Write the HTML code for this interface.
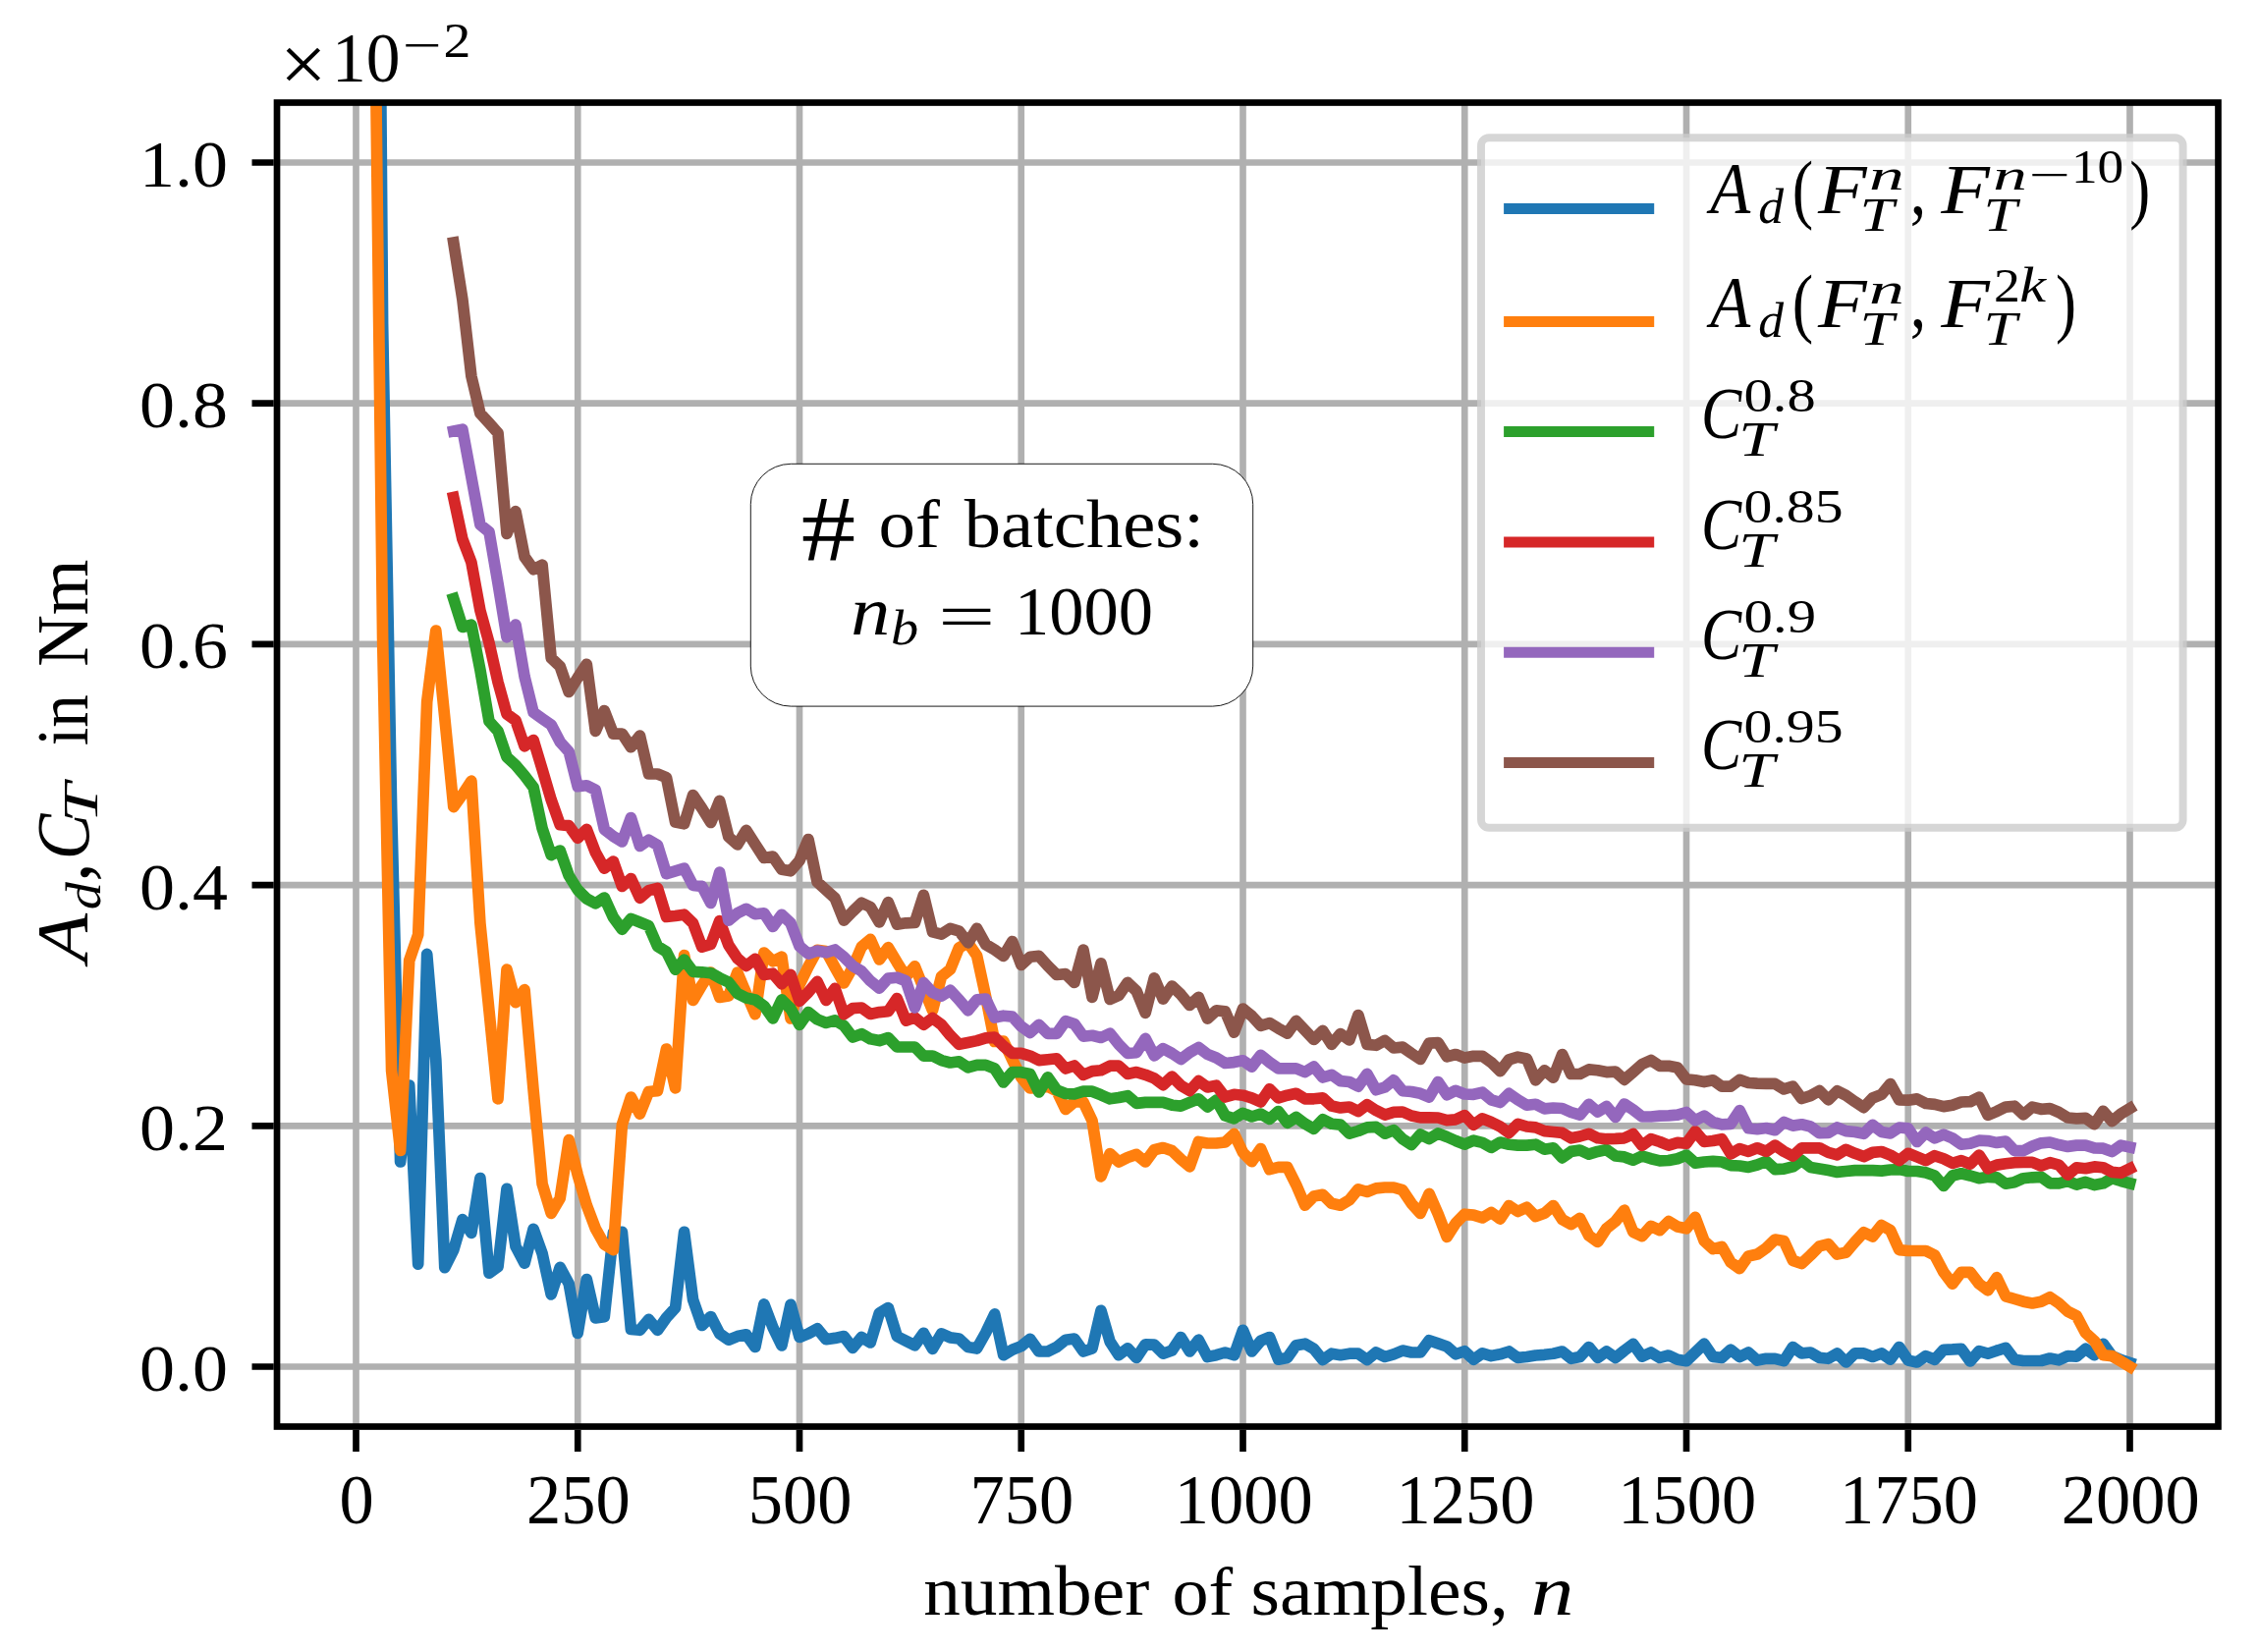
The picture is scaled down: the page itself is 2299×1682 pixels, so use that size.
<!DOCTYPE html><html lang="en"><head><meta charset="utf-8"><title>plot</title><style>html,body{margin:0;padding:0;background:#fff}svg{display:block}</style></head><body><svg width="2299" height="1682" viewBox="0 0 2299 1682" font-family="'Liberation Serif', 'DejaVu Serif', serif" font-size="200px" fill="#000">
<rect width="2299" height="1682" fill="#fff"/>
<defs><clipPath id="ax"><rect x="282.0" y="104.5" width="1976.5" height="1348.0"/></clipPath></defs>
<path d="M362.50 104.5V1452.5M588.25 104.5V1452.5M814.00 104.5V1452.5M1039.75 104.5V1452.5M1265.50 104.5V1452.5M1491.25 104.5V1452.5M1717.00 104.5V1452.5M1942.75 104.5V1452.5M2168.50 104.5V1452.5M282.0 1391.50H2258.5M282.0 1146.30H2258.5M282.0 901.10H2258.5M282.0 655.90H2258.5M282.0 410.70H2258.5M282.0 165.50H2258.5" stroke="#b0b0b0" stroke-width="6.67" fill="none"/>
<g clip-path="url(#ax)" fill="none" stroke-width="11.7" stroke-linejoin="round" stroke-linecap="square">
<polyline points="371.5,-4000.0 380.6,-828.0 389.6,330.0 398.6,822.0 407.6,1183.0 416.7,1105.0 425.7,1287.1 434.7,971.4 443.8,1079.0 452.8,1290.7 461.8,1272.6 470.9,1241.7 479.9,1255.3 488.9,1199.6 498.0,1296.2 507.0,1289.8 516.0,1210.3 525.0,1269.0 534.1,1286.2 543.1,1251.3 552.1,1276.2 561.2,1318.0 570.2,1290.4 579.2,1307.0 588.2,1357.4 597.3,1302.5 606.3,1342.0 615.3,1340.7 624.4,1255.3 633.4,1254.4 642.4,1353.4 651.5,1354.3 660.5,1343.4 669.5,1354.3 678.5,1341.6 687.6,1331.6 696.6,1254.4 705.6,1323.4 714.7,1349.5 723.7,1340.5 732.7,1357.9 741.8,1364.2 750.8,1360.6 759.8,1358.8 768.9,1371.5 777.9,1327.9 786.9,1351.5 795.9,1370.0 805.0,1328.3 814.0,1361.5 823.0,1357.9 832.1,1352.8 841.1,1363.7 850.1,1362.4 859.2,1360.6 868.2,1372.4 877.2,1361.5 886.2,1367.0 895.3,1337.0 904.3,1331.6 913.3,1360.6 922.4,1365.2 931.4,1369.7 940.4,1357.3 949.5,1373.3 958.5,1357.9 967.5,1361.9 976.5,1363.0 985.6,1371.5 994.6,1373.0 1003.6,1357.0 1012.7,1337.9 1021.7,1379.7 1030.7,1374.2 1039.8,1370.6 1048.8,1363.3 1057.8,1376.0 1066.8,1376.0 1075.9,1371.5 1084.9,1364.2 1093.9,1363.0 1103.0,1376.0 1112.0,1373.0 1121.0,1334.3 1130.1,1366.0 1139.1,1379.7 1148.1,1372.8 1157.1,1382.4 1166.2,1368.8 1175.2,1369.2 1184.2,1378.2 1193.3,1375.0 1202.3,1361.5 1211.3,1376.0 1220.3,1364.2 1229.4,1381.5 1238.4,1379.7 1247.4,1377.0 1256.5,1379.7 1265.5,1354.3 1274.5,1376.0 1283.6,1365.2 1292.6,1361.5 1301.6,1384.2 1310.7,1382.4 1319.7,1369.7 1328.7,1368.2 1337.7,1373.3 1346.8,1384.6 1355.8,1378.2 1364.8,1379.7 1373.9,1378.2 1382.9,1378.2 1391.9,1384.6 1401.0,1377.0 1410.0,1381.5 1419.0,1378.8 1428.0,1375.1 1437.1,1377.0 1446.1,1377.0 1455.1,1364.8 1464.2,1367.9 1473.2,1371.0 1482.2,1378.8 1491.2,1375.7 1500.3,1384.2 1509.3,1377.9 1518.3,1380.6 1527.4,1378.8 1536.4,1376.0 1545.4,1382.4 1554.5,1381.5 1563.5,1380.0 1572.5,1379.3 1581.5,1378.2 1590.6,1376.0 1599.6,1383.3 1608.6,1381.5 1617.7,1371.5 1626.7,1382.4 1635.7,1376.0 1644.8,1382.4 1653.8,1375.1 1662.8,1368.4 1671.9,1381.1 1680.9,1377.0 1689.9,1382.4 1698.9,1380.0 1708.0,1384.2 1717.0,1385.7 1726.0,1377.0 1735.1,1368.2 1744.1,1381.5 1753.1,1382.4 1762.2,1374.2 1771.2,1381.5 1780.2,1377.0 1789.2,1385.1 1798.3,1383.3 1807.3,1383.3 1816.3,1385.7 1825.4,1371.5 1834.4,1377.9 1843.4,1377.0 1852.5,1382.4 1861.5,1383.3 1870.5,1377.9 1879.5,1387.0 1888.6,1377.9 1897.6,1377.9 1906.6,1381.5 1915.7,1377.9 1924.7,1384.2 1933.7,1371.5 1942.8,1385.1 1951.8,1387.0 1960.8,1380.6 1969.8,1384.2 1978.9,1374.3 1987.9,1373.9 1996.9,1373.3 2006.0,1386.0 2015.0,1375.7 2024.0,1378.2 2033.0,1375.2 2042.1,1372.4 2051.1,1384.2 2060.1,1385.5 2069.2,1385.5 2078.2,1385.5 2087.2,1383.0 2096.3,1384.8 2105.3,1380.6 2114.3,1381.2 2123.4,1373.3 2132.4,1379.7 2141.4,1368.3 2150.4,1380.6 2159.5,1384.6 2168.5,1387.5" stroke="#1f77b4"/>
<polyline points="371.5,-3000.0 380.6,-90.0 389.6,650.0 398.6,1090.0 407.6,1171.4 416.7,978.0 425.7,951.7 434.7,714.4 443.8,642.0 452.8,730.8 461.8,821.6 470.9,808.9 479.9,795.2 488.9,940.0 498.0,1029.3 507.0,1118.8 516.0,987.2 525.0,1020.7 534.1,1007.7 543.1,1110.0 552.1,1205.4 561.2,1235.4 570.2,1220.0 579.2,1160.6 588.2,1196.3 597.3,1227.2 606.3,1250.8 615.3,1267.0 624.4,1272.6 633.4,1145.0 642.4,1117.0 651.5,1134.2 660.5,1111.5 669.5,1110.6 678.5,1068.0 687.6,1107.9 696.6,972.6 705.6,1018.5 714.7,1003.0 723.7,990.0 732.7,1015.4 741.8,1014.0 750.8,990.0 759.8,1011.5 768.9,1032.7 777.9,970.0 786.9,978.7 795.9,974.2 805.0,1037.0 814.0,1002.6 823.0,984.2 832.1,967.4 841.1,968.5 850.1,984.9 859.2,1001.0 868.2,985.0 877.2,964.0 886.2,956.4 895.3,977.0 904.3,964.7 913.3,979.8 922.4,994.3 931.4,983.9 940.4,1006.4 949.5,1028.8 958.5,994.3 967.5,987.0 976.5,964.8 985.6,960.0 994.6,973.0 1003.6,1014.5 1012.7,1060.5 1021.7,1060.0 1030.7,1079.0 1039.8,1097.0 1048.8,1108.0 1057.8,1107.6 1066.8,1106.2 1075.9,1110.8 1084.9,1129.4 1093.9,1122.0 1103.0,1122.0 1112.0,1141.0 1121.0,1198.0 1130.1,1174.6 1139.1,1183.0 1148.1,1178.5 1157.1,1175.4 1166.2,1183.0 1175.2,1170.7 1184.2,1168.5 1193.3,1171.6 1202.3,1180.3 1211.3,1187.8 1220.3,1162.5 1229.4,1164.0 1238.4,1164.0 1247.4,1163.0 1256.5,1154.4 1265.5,1173.5 1274.5,1182.7 1283.6,1169.6 1292.6,1190.6 1301.6,1188.4 1310.7,1188.4 1319.7,1206.3 1328.7,1227.2 1337.7,1218.1 1346.8,1216.3 1355.8,1225.3 1364.8,1227.2 1373.9,1221.7 1382.9,1210.8 1391.9,1213.5 1401.0,1209.9 1410.0,1209.0 1419.0,1209.0 1428.0,1211.7 1437.1,1225.3 1446.1,1235.3 1455.1,1215.4 1464.2,1236.0 1473.2,1259.3 1482.2,1245.3 1491.2,1236.2 1500.3,1237.1 1509.3,1239.9 1518.3,1234.4 1527.4,1241.1 1536.4,1227.5 1545.4,1233.5 1554.5,1229.3 1563.5,1238.6 1572.5,1235.3 1581.5,1227.5 1590.6,1241.7 1599.6,1246.6 1608.6,1240.4 1617.7,1258.0 1626.7,1264.4 1635.7,1250.8 1644.8,1243.5 1653.8,1232.2 1662.8,1254.4 1671.9,1258.6 1680.9,1248.4 1689.9,1252.6 1698.9,1243.5 1708.0,1249.0 1717.0,1250.8 1726.0,1239.3 1735.1,1263.5 1744.1,1271.6 1753.1,1269.3 1762.2,1285.3 1771.2,1291.6 1780.2,1278.9 1789.2,1277.1 1798.3,1270.7 1807.3,1262.0 1816.3,1263.5 1825.4,1283.4 1834.4,1286.5 1843.4,1278.0 1852.5,1268.9 1861.5,1266.6 1870.5,1277.1 1879.5,1275.3 1888.6,1264.4 1897.6,1254.8 1906.6,1259.0 1915.7,1247.5 1924.7,1252.6 1933.7,1272.6 1942.8,1273.5 1951.8,1273.5 1960.8,1273.5 1969.8,1278.0 1978.9,1295.3 1987.9,1307.1 1996.9,1295.3 2006.0,1295.3 2015.0,1307.1 2024.0,1313.8 2033.0,1300.7 2042.1,1319.8 2051.1,1322.5 2060.1,1325.2 2069.2,1327.0 2078.2,1325.2 2087.2,1320.7 2096.3,1327.0 2105.3,1335.2 2114.3,1339.8 2123.4,1357.0 2132.4,1365.2 2141.4,1379.7 2150.4,1380.6 2159.5,1386.0 2168.5,1391.5" stroke="#ff7f0e"/>
<polyline points="461.8,609.5 470.9,638.5 479.9,636.2 488.9,682.0 498.0,734.4 507.0,744.4 516.0,770.7 525.0,779.0 534.1,789.8 543.1,801.6 552.1,843.4 561.2,870.6 570.2,866.0 579.2,891.5 588.2,906.0 597.3,915.0 606.3,919.8 615.3,914.0 624.4,934.0 633.4,946.3 642.4,935.4 651.5,939.0 660.5,942.7 669.5,963.5 678.5,969.0 687.6,987.2 696.6,977.2 705.6,989.3 714.7,989.8 723.7,990.7 732.7,995.7 741.8,1000.0 750.8,1011.5 759.8,1016.0 768.9,1017.9 777.9,1024.2 786.9,1037.0 795.9,1017.9 805.0,1027.0 814.0,1043.3 823.0,1030.6 832.1,1037.9 841.1,1041.5 850.1,1038.8 859.2,1044.2 868.2,1056.0 877.2,1052.7 886.2,1057.8 895.3,1059.6 904.3,1056.6 913.3,1066.0 922.4,1066.0 931.4,1066.0 940.4,1075.1 949.5,1075.1 958.5,1079.6 967.5,1082.0 976.5,1080.8 985.6,1086.8 994.6,1084.3 1003.6,1084.3 1012.7,1088.0 1021.7,1102.0 1030.7,1091.7 1039.8,1091.7 1048.8,1093.5 1057.8,1112.0 1066.8,1096.8 1075.9,1109.8 1084.9,1113.5 1093.9,1113.9 1103.0,1111.2 1112.0,1111.2 1121.0,1114.8 1130.1,1118.8 1139.1,1117.5 1148.1,1115.7 1157.1,1123.4 1166.2,1122.4 1175.2,1122.4 1184.2,1122.4 1193.3,1125.2 1202.3,1126.1 1211.3,1122.4 1220.3,1118.8 1229.4,1127.0 1238.4,1120.2 1247.4,1136.0 1256.5,1138.8 1265.5,1133.3 1274.5,1137.0 1283.6,1134.2 1292.6,1139.3 1301.6,1131.5 1310.7,1143.3 1319.7,1137.5 1328.7,1144.2 1337.7,1149.3 1346.8,1139.7 1355.8,1144.2 1364.8,1145.1 1373.9,1154.2 1382.9,1151.5 1391.9,1147.8 1401.0,1147.3 1410.0,1154.2 1419.0,1150.6 1428.0,1159.6 1437.1,1165.5 1446.1,1155.1 1455.1,1159.6 1464.2,1154.0 1473.2,1157.5 1482.2,1161.5 1491.2,1165.2 1500.3,1161.2 1509.3,1163.4 1518.3,1168.4 1527.4,1163.0 1536.4,1165.2 1545.4,1166.1 1554.5,1166.1 1563.5,1165.2 1572.5,1170.2 1581.5,1168.8 1590.6,1178.8 1599.6,1172.4 1608.6,1171.0 1617.7,1175.2 1626.7,1172.4 1635.7,1170.6 1644.8,1177.0 1653.8,1177.9 1662.8,1181.2 1671.9,1177.0 1680.9,1179.7 1689.9,1181.9 1698.9,1181.5 1708.0,1179.7 1717.0,1176.1 1726.0,1184.2 1735.1,1183.0 1744.1,1182.4 1753.1,1183.0 1762.2,1186.6 1771.2,1187.0 1780.2,1188.4 1789.2,1186.0 1798.3,1182.4 1807.3,1190.6 1816.3,1190.2 1825.4,1187.9 1834.4,1181.5 1843.4,1188.5 1852.5,1190.0 1861.5,1191.6 1870.5,1193.4 1879.5,1192.5 1888.6,1191.6 1897.6,1191.6 1906.6,1191.6 1915.7,1192.1 1924.7,1191.0 1933.7,1190.6 1942.8,1192.5 1951.8,1192.5 1960.8,1193.9 1969.8,1197.0 1978.9,1207.5 1987.9,1197.0 1996.9,1194.8 2006.0,1197.0 2015.0,1199.7 2024.0,1198.3 2033.0,1198.8 2042.1,1205.2 2051.1,1203.7 2060.1,1199.7 2069.2,1198.8 2078.2,1198.3 2087.2,1204.8 2096.3,1204.8 2105.3,1202.5 2114.3,1206.1 2123.4,1203.4 2132.4,1206.6 2141.4,1204.8 2150.4,1199.7 2159.5,1202.5 2168.5,1204.8" stroke="#2ca02c"/>
<polyline points="461.8,506.5 470.9,548.9 479.9,572.5 488.9,621.5 498.0,654.5 507.0,694.5 516.0,727.0 525.0,733.5 534.1,759.8 543.1,753.5 552.1,783.4 561.2,814.3 570.2,839.7 579.2,840.6 588.2,853.3 597.3,844.3 606.3,867.9 615.3,884.2 624.4,877.0 633.4,902.5 642.4,894.5 651.5,914.3 660.5,906.6 669.5,904.3 678.5,933.4 687.6,932.5 696.6,931.2 705.6,940.0 714.7,964.2 723.7,961.5 732.7,937.6 741.8,962.2 750.8,975.8 759.8,983.4 768.9,976.3 777.9,992.4 786.9,991.2 795.9,1001.8 805.0,992.4 814.0,1019.3 823.0,1010.3 832.1,999.4 841.1,1018.4 850.1,1006.4 859.2,1032.7 868.2,1026.6 877.2,1026.0 886.2,1032.4 895.3,1030.6 904.3,1029.7 913.3,1016.6 922.4,1039.1 931.4,1036.0 940.4,1043.3 949.5,1036.6 958.5,1043.3 967.5,1054.2 976.5,1063.3 985.6,1061.5 994.6,1059.6 1003.6,1056.9 1012.7,1056.0 1021.7,1065.1 1030.7,1072.4 1039.8,1072.4 1048.8,1075.1 1057.8,1079.6 1066.8,1078.7 1075.9,1077.8 1084.9,1088.0 1093.9,1085.0 1103.0,1094.3 1112.0,1090.6 1121.0,1089.7 1130.1,1085.2 1139.1,1085.2 1148.1,1093.4 1157.1,1091.6 1166.2,1094.3 1175.2,1097.9 1184.2,1104.6 1193.3,1096.1 1202.3,1105.2 1211.3,1110.6 1220.3,1100.6 1229.4,1107.0 1238.4,1105.2 1247.4,1117.0 1256.5,1114.3 1265.5,1115.2 1274.5,1117.9 1283.6,1122.0 1292.6,1108.8 1301.6,1117.9 1310.7,1115.2 1319.7,1113.3 1328.7,1118.8 1337.7,1118.8 1346.8,1117.9 1355.8,1126.1 1364.8,1127.9 1373.9,1127.0 1382.9,1131.5 1391.9,1124.8 1401.0,1130.6 1410.0,1135.1 1419.0,1132.4 1428.0,1132.0 1437.1,1136.0 1446.1,1137.9 1455.1,1137.9 1464.2,1138.0 1473.2,1140.6 1482.2,1139.8 1491.2,1135.6 1500.3,1145.2 1509.3,1138.8 1518.3,1142.5 1527.4,1147.0 1536.4,1153.4 1545.4,1144.3 1554.5,1147.0 1563.5,1147.9 1572.5,1151.6 1581.5,1152.5 1590.6,1153.4 1599.6,1158.8 1608.6,1157.0 1617.7,1154.3 1626.7,1158.8 1635.7,1159.7 1644.8,1159.4 1653.8,1158.8 1662.8,1154.6 1671.9,1166.4 1680.9,1159.7 1689.9,1162.5 1698.9,1166.1 1708.0,1163.4 1717.0,1164.3 1726.0,1151.9 1735.1,1162.5 1744.1,1161.5 1753.1,1159.7 1762.2,1174.8 1771.2,1169.7 1780.2,1172.4 1789.2,1168.8 1798.3,1172.4 1807.3,1166.1 1816.3,1172.4 1825.4,1177.0 1834.4,1168.8 1843.4,1168.8 1852.5,1168.8 1861.5,1173.4 1870.5,1175.8 1879.5,1170.3 1888.6,1174.3 1897.6,1177.6 1906.6,1173.4 1915.7,1172.5 1924.7,1176.1 1933.7,1181.6 1942.8,1174.3 1951.8,1177.9 1960.8,1181.6 1969.8,1176.7 1978.9,1179.8 1987.9,1184.3 1996.9,1181.6 2006.0,1185.2 2015.0,1176.1 2024.0,1189.7 2033.0,1186.1 2042.1,1184.8 2051.1,1183.7 2060.1,1183.4 2069.2,1183.4 2078.2,1187.0 2087.2,1183.7 2096.3,1186.1 2105.3,1196.1 2114.3,1188.8 2123.4,1189.7 2132.4,1187.9 2141.4,1188.8 2150.4,1193.4 2159.5,1194.3 2168.5,1189.9" stroke="#d62728"/>
<polyline points="461.8,439.0 470.9,437.2 479.9,485.7 488.9,534.3 498.0,541.6 507.0,594.0 516.0,648.8 525.0,636.0 534.1,689.0 543.1,725.3 552.1,731.7 561.2,738.0 570.2,755.3 579.2,765.3 588.2,800.7 597.3,799.8 606.3,804.3 615.3,844.3 624.4,851.5 633.4,857.0 642.4,832.5 651.5,861.5 660.5,855.2 669.5,860.6 678.5,889.7 687.6,886.9 696.6,884.2 705.6,901.5 714.7,902.4 723.7,919.5 732.7,888.2 741.8,937.1 750.8,929.8 759.8,925.3 768.9,930.7 777.9,929.8 786.9,943.4 795.9,931.3 805.0,939.8 814.0,963.4 823.0,971.2 832.1,968.0 841.1,969.8 850.1,967.0 859.2,974.3 868.2,983.4 877.2,988.8 886.2,998.8 895.3,1006.1 904.3,996.1 913.3,995.2 922.4,998.8 931.4,1026.0 940.4,1000.6 949.5,1010.6 958.5,1014.2 967.5,1008.3 976.5,1017.9 985.6,1028.8 994.6,1017.9 1003.6,1017.0 1012.7,1036.0 1021.7,1034.2 1030.7,1035.1 1039.8,1045.1 1048.8,1051.5 1057.8,1043.3 1066.8,1052.4 1075.9,1052.4 1084.9,1039.7 1093.9,1042.5 1103.0,1055.2 1112.0,1054.3 1121.0,1056.5 1130.1,1052.2 1139.1,1063.4 1148.1,1072.5 1157.1,1071.6 1166.2,1057.4 1175.2,1074.9 1184.2,1067.6 1193.3,1072.5 1202.3,1078.5 1211.3,1071.6 1220.3,1066.5 1229.4,1073.4 1238.4,1077.0 1247.4,1082.5 1256.5,1081.6 1265.5,1079.8 1274.5,1086.1 1283.6,1074.3 1292.6,1081.6 1301.6,1087.9 1310.7,1087.9 1319.7,1087.9 1328.7,1091.6 1337.7,1086.1 1346.8,1097.0 1355.8,1094.3 1364.8,1100.6 1373.9,1101.5 1382.9,1106.1 1391.9,1093.4 1401.0,1109.7 1410.0,1107.0 1419.0,1099.7 1428.0,1110.6 1437.1,1111.5 1446.1,1113.3 1455.1,1117.0 1464.2,1101.5 1473.2,1114.8 1482.2,1110.3 1491.2,1114.0 1500.3,1114.3 1509.3,1112.2 1518.3,1119.8 1527.4,1122.5 1536.4,1113.4 1545.4,1119.8 1554.5,1125.2 1563.5,1124.3 1572.5,1128.9 1581.5,1128.0 1590.6,1128.5 1599.6,1132.5 1608.6,1135.2 1617.7,1124.3 1626.7,1132.1 1635.7,1126.5 1644.8,1137.4 1653.8,1124.0 1662.8,1129.8 1671.9,1137.0 1680.9,1137.0 1689.9,1136.1 1698.9,1135.8 1708.0,1135.2 1717.0,1132.5 1726.0,1140.7 1735.1,1136.1 1744.1,1142.5 1753.1,1144.8 1762.2,1144.3 1771.2,1130.7 1780.2,1148.8 1789.2,1149.7 1798.3,1148.5 1807.3,1150.7 1816.3,1142.5 1825.4,1146.1 1834.4,1144.8 1843.4,1147.0 1852.5,1153.7 1861.5,1153.4 1870.5,1148.0 1879.5,1151.6 1888.6,1152.5 1897.6,1154.3 1906.6,1145.3 1915.7,1152.5 1924.7,1154.0 1933.7,1148.0 1942.8,1148.9 1951.8,1162.5 1960.8,1153.1 1969.8,1158.9 1978.9,1155.2 1987.9,1158.9 1996.9,1165.2 2006.0,1164.3 2015.0,1161.2 2024.0,1161.6 2033.0,1163.4 2042.1,1162.1 2051.1,1171.6 2060.1,1171.6 2069.2,1167.0 2078.2,1163.8 2087.2,1163.0 2096.3,1165.6 2105.3,1167.4 2114.3,1166.1 2123.4,1166.1 2132.4,1168.9 2141.4,1169.2 2150.4,1172.5 2159.5,1166.1 2168.5,1168.0" stroke="#9467bd"/>
<polyline points="461.8,247.0 470.9,305.0 479.9,383.0 488.9,420.9 498.0,430.8 507.0,440.8 516.0,543.4 525.0,520.7 534.1,567.0 543.1,579.7 552.1,575.2 561.2,670.0 570.2,678.5 579.2,704.5 588.2,690.0 597.3,676.3 606.3,744.4 615.3,723.5 624.4,747.1 633.4,747.1 642.4,760.7 651.5,749.0 660.5,788.0 669.5,788.0 678.5,791.6 687.6,837.0 696.6,838.8 705.6,809.5 714.7,823.0 723.7,837.5 732.7,815.3 741.8,852.0 750.8,860.0 759.8,845.4 768.9,859.6 777.9,873.5 786.9,872.1 795.9,885.3 805.0,886.8 814.0,876.3 823.0,854.5 832.1,898.0 841.1,906.2 850.1,914.4 859.2,937.1 868.2,928.0 877.2,919.3 886.2,923.5 895.3,938.9 904.3,918.6 913.3,941.1 922.4,939.8 931.4,939.4 940.4,911.3 949.5,948.9 958.5,951.2 967.5,945.3 976.5,948.0 985.6,959.8 994.6,945.3 1003.6,961.6 1012.7,967.0 1021.7,973.4 1030.7,958.5 1039.8,982.5 1048.8,974.3 1057.8,973.4 1066.8,983.4 1075.9,992.5 1084.9,991.6 1093.9,1000.5 1103.0,967.2 1112.0,1015.3 1121.0,980.8 1130.1,1017.5 1139.1,1013.5 1148.1,1000.4 1157.1,1009.0 1166.2,1031.3 1175.2,995.9 1184.2,1017.1 1193.3,1004.0 1202.3,1012.6 1211.3,1023.5 1220.3,1015.3 1229.4,1037.1 1238.4,1028.9 1247.4,1029.8 1256.5,1051.2 1265.5,1027.1 1274.5,1034.4 1283.6,1044.3 1292.6,1041.6 1301.6,1047.1 1310.7,1052.0 1319.7,1039.4 1328.7,1048.9 1337.7,1058.5 1346.8,1049.4 1355.8,1063.4 1364.8,1052.5 1373.9,1058.9 1382.9,1033.5 1391.9,1063.4 1401.0,1064.3 1410.0,1059.4 1419.0,1067.0 1428.0,1066.1 1437.1,1072.5 1446.1,1078.5 1455.1,1062.0 1464.2,1061.6 1473.2,1075.9 1482.2,1073.5 1491.2,1077.1 1500.3,1075.3 1509.3,1075.3 1518.3,1081.7 1527.4,1090.7 1536.4,1078.9 1545.4,1076.2 1554.5,1078.0 1563.5,1099.8 1572.5,1089.8 1581.5,1097.1 1590.6,1073.5 1599.6,1093.5 1608.6,1093.5 1617.7,1088.9 1626.7,1089.8 1635.7,1091.6 1644.8,1091.1 1653.8,1099.3 1662.8,1091.6 1671.9,1083.5 1680.9,1079.5 1689.9,1085.3 1698.9,1085.3 1708.0,1087.1 1717.0,1098.9 1726.0,1099.8 1735.1,1101.6 1744.1,1099.8 1753.1,1106.2 1762.2,1106.2 1771.2,1099.4 1780.2,1102.5 1789.2,1103.1 1798.3,1103.4 1807.3,1103.4 1816.3,1108.9 1825.4,1106.2 1834.4,1118.5 1843.4,1115.7 1852.5,1110.5 1861.5,1119.8 1870.5,1110.8 1879.5,1115.3 1888.6,1121.7 1897.6,1127.6 1906.6,1118.0 1915.7,1114.4 1924.7,1103.5 1933.7,1119.8 1942.8,1120.2 1951.8,1118.9 1960.8,1123.5 1969.8,1124.4 1978.9,1126.6 1987.9,1125.3 1996.9,1122.0 2006.0,1121.7 2015.0,1117.1 2024.0,1135.3 2033.0,1131.6 2042.1,1127.1 2051.1,1126.2 2060.1,1134.9 2069.2,1127.1 2078.2,1129.3 2087.2,1128.6 2096.3,1132.5 2105.3,1138.0 2114.3,1138.9 2123.4,1138.4 2132.4,1144.7 2141.4,1131.3 2150.4,1141.6 2159.5,1134.0 2168.5,1128.6" stroke="#8c564b"/>
</g>
<path d="M362.50 1455.8v22.2M588.25 1455.8v22.2M814.00 1455.8v22.2M1039.75 1455.8v22.2M1265.50 1455.8v22.2M1491.25 1455.8v22.2M1717.00 1455.8v22.2M1942.75 1455.8v22.2M2168.50 1455.8v22.2M278.7 1391.50h-22.2M278.7 1146.30h-22.2M278.7 901.10h-22.2M278.7 655.90h-22.2M278.7 410.70h-22.2M278.7 165.50h-22.2" stroke="#000" stroke-width="6.67" fill="none"/>
<rect x="282.0" y="104.5" width="1976.5" height="1348.0" fill="none" stroke="#000" stroke-width="6.67"/>
<g><text transform="matrix(0.3597,0,0,0.3426,142.02,1416.07)">0.0</text><text transform="matrix(0.3597,0,0,0.3426,142.02,1170.87)">0.2</text><text transform="matrix(0.3597,0,0,0.3426,142.02,925.67)">0.4</text><text transform="matrix(0.3597,0,0,0.3426,142.02,680.47)">0.6</text><text transform="matrix(0.3597,0,0,0.3426,142.02,435.27)">0.8</text><text transform="matrix(0.3597,0,0,0.3426,142.02,190.07)">1.0</text><text transform="matrix(0.3523,0,0,0.3578,345.58,1551.38)">0</text><text transform="matrix(0.3523,0,0,0.3578,536.10,1551.38)">250</text><text transform="matrix(0.3523,0,0,0.3578,761.85,1551.38)">500</text><text transform="matrix(0.3523,0,0,0.3578,987.60,1551.38)">750</text><text transform="matrix(0.3523,0,0,0.3578,1195.73,1551.38)">1000</text><text transform="matrix(0.3523,0,0,0.3578,1421.48,1551.38)">1250</text><text transform="matrix(0.3523,0,0,0.3578,1647.23,1551.38)">1500</text><text transform="matrix(0.3523,0,0,0.3578,1872.98,1551.38)">1750</text><text transform="matrix(0.3523,0,0,0.3578,2098.73,1551.38)">2000</text><text transform="matrix(0.4222,0,0,0.4086,285.04,92.72)">×</text><text transform="matrix(0.3472,0,0,0.3570,338.00,83.29)">10</text><text transform="matrix(0.3538,0,0,0.2500,409.46,62.65)">−</text><text transform="matrix(0.2788,0,0,0.2508,451.39,58.00)">2</text><text transform="matrix(0.3767,0,0,0.3553,940.19,1643.59)">number</text><text transform="matrix(0.3704,0,0,0.3503,1193.54,1643.60)">of</text><text transform="matrix(0.3780,0,0,0.3553,1273.48,1643.59)">samples,</text><text font-style="italic" transform="matrix(0.4376,0,0,0.3553,1558.64,1644.30)">n</text><text font-style="italic" transform="rotate(-90) matrix(0.4097,0,0,0.3727,-979.99,89.20)">A</text><text font-style="italic" transform="rotate(-90) matrix(0.2800,0,0,0.2539,-926.28,102.09)">d</text><text transform="rotate(-90) matrix(0.3867,0,0,0.4118,-897.69,90.65)">,</text><text font-style="italic" transform="rotate(-90) matrix(0.3492,0,0,0.3843,-875.14,89.73)">C</text><text font-style="italic" transform="rotate(-90) matrix(0.3636,0,0,0.2519,-837.73,99.00)">T</text><text transform="rotate(-90) matrix(0.3356,0,0,0.3727,-759.34,89.20)">in</text><text transform="rotate(-90) matrix(0.3639,0,0,0.3710,-678.68,89.20)">Nm</text></g>
<rect x="764.3" y="472.3" width="511.4" height="246.8" rx="41" ry="41" fill="#fff" stroke="#000" stroke-width="0.9"/>
<g><text transform="matrix(0.5543,0,0,0.4786,815.74,571.00)">#</text><text transform="matrix(0.3742,0,0,0.3462,894.51,557.31)">of</text><text transform="matrix(0.3726,0,0,0.3486,981.80,556.95)">batches:</text><text font-style="italic" transform="matrix(0.4000,0,0,0.3457,866.20,646.20)">n</text><text font-style="italic" transform="matrix(0.2816,0,0,0.2539,907.03,656.29)">b</text><text transform="matrix(0.5183,0,0,0.3320,955.02,649.61)">=</text><text transform="matrix(0.3527,0,0,0.3526,1032.90,645.69)">1000</text></g>
<g><rect x="1508" y="140.3" width="714.6" height="702.5" rx="8" ry="8" fill="#fff" fill-opacity="0.8" stroke="#ccc" stroke-opacity="0.8" stroke-width="7.9"/><path d="M1531.1 212.4H1684.2" stroke="#1f77b4" stroke-width="11" fill="none"/><path d="M1531.1 327.6H1684.2" stroke="#ff7f0e" stroke-width="11" fill="none"/><path d="M1531.1 439.5H1684.2" stroke="#2ca02c" stroke-width="11" fill="none"/><path d="M1531.1 552.0H1684.2" stroke="#d62728" stroke-width="11" fill="none"/><path d="M1531.1 664.2H1684.2" stroke="#9467bd" stroke-width="11" fill="none"/><path d="M1531.1 776.5H1684.2" stroke="#8c564b" stroke-width="11" fill="none"/><text font-style="italic" transform="matrix(0.3351,0,0,0.3720,1741.29,216.80)">A</text><text font-style="italic" transform="matrix(0.2579,0,0,0.2511,1790.15,227.20)">d</text><text transform="matrix(0.3216,0,0,0.3962,1824.81,217.87)">(</text><text font-style="italic" transform="matrix(0.4064,0,0,0.3626,1851.11,216.80)">F</text><text font-style="italic" transform="matrix(0.3588,0,0,0.2191,1902.89,193.20)">n</text><text font-style="italic" transform="matrix(0.3127,0,0,0.2450,1893.43,234.90)">T</text><text transform="matrix(0.3300,0,0,0.3922,1944.66,217.74)">,</text><text font-style="italic" transform="matrix(0.4056,0,0,0.3626,1976.31,216.80)">F</text><text font-style="italic" transform="matrix(0.3064,0,0,0.2450,2019.42,234.90)">T</text><text font-style="italic" transform="matrix(0.3459,0,0,0.2191,2029.18,193.20)">n</text><text transform="matrix(0.3763,0,0,0.2200,2065.84,193.02)">−</text><text transform="matrix(0.2665,0,0,0.2393,2108.97,186.42)">10</text><text transform="matrix(0.3154,0,0,0.3962,2168.31,217.87)">)</text><text font-style="italic" transform="matrix(0.3351,0,0,0.3720,1741.29,332.50)">A</text><text font-style="italic" transform="matrix(0.2579,0,0,0.2511,1790.15,342.90)">d</text><text transform="matrix(0.3216,0,0,0.3962,1824.81,333.57)">(</text><text font-style="italic" transform="matrix(0.4064,0,0,0.3626,1851.11,332.50)">F</text><text font-style="italic" transform="matrix(0.3588,0,0,0.2191,1902.89,308.90)">n</text><text font-style="italic" transform="matrix(0.3127,0,0,0.2450,1893.43,350.60)">T</text><text transform="matrix(0.3300,0,0,0.3922,1944.66,333.44)">,</text><text font-style="italic" transform="matrix(0.4056,0,0,0.3626,1976.31,332.50)">F</text><text font-style="italic" transform="matrix(0.3064,0,0,0.2450,2019.42,350.60)">T</text><text transform="matrix(0.2687,0,0,0.2386,2030.08,307.30)">2</text><text font-style="italic" transform="matrix(0.3023,0,0,0.2496,2056.19,307.30)">k</text><text transform="matrix(0.3154,0,0,0.3962,2092.91,333.57)">)</text><text font-style="italic" transform="matrix(0.3089,0,0,0.3664,1731.90,446.27)">C</text><text transform="matrix(0.2928,0,0,0.2456,1775.56,419.06)">0.8</text><text font-style="italic" transform="matrix(0.3282,0,0,0.2504,1770.33,464.40)">T</text><text font-style="italic" transform="matrix(0.3089,0,0,0.3664,1731.90,558.77)">C</text><text transform="matrix(0.2886,0,0,0.2456,1775.59,531.56)">0.85</text><text font-style="italic" transform="matrix(0.3282,0,0,0.2504,1770.33,576.90)">T</text><text font-style="italic" transform="matrix(0.3089,0,0,0.3664,1731.90,670.97)">C</text><text transform="matrix(0.2940,0,0,0.2456,1775.55,643.76)">0.9</text><text font-style="italic" transform="matrix(0.3282,0,0,0.2504,1770.33,689.10)">T</text><text font-style="italic" transform="matrix(0.3089,0,0,0.3664,1731.90,783.27)">C</text><text transform="matrix(0.2886,0,0,0.2456,1775.59,756.06)">0.95</text><text font-style="italic" transform="matrix(0.3282,0,0,0.2504,1770.33,801.40)">T</text></g>
</svg></body></html>
